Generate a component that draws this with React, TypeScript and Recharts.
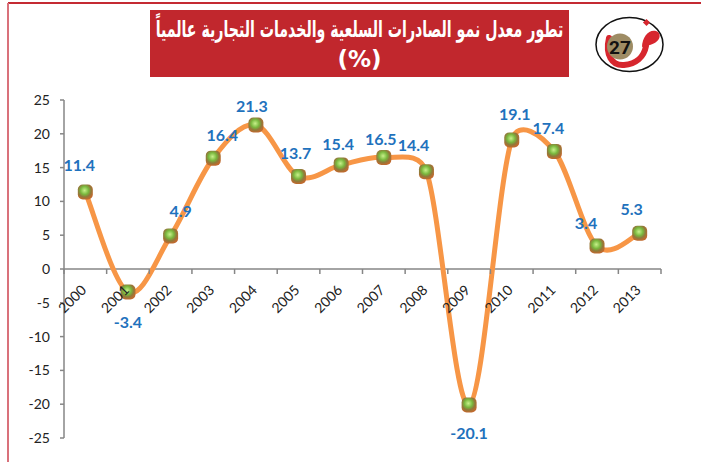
import { useLayoutEffect, useRef, useState } from 'react';
import { LineChart, Line, XAxis, YAxis, ReferenceLine, LabelList } from 'recharts';

const years = ['2000', '2001', '2002', '2003', '2004', '2005', '2006', '2007', '2008', '2009', '2010', '2011', '2012', '2013'];
const growth = [11.4, -3.4, 4.9, 16.4, 21.3, 13.7, 15.4, 16.5, 14.4, -20.1, 19.1, 17.4, 3.4, 5.3];
const yTicks = [-25, -20, -15, -10, -5, 0, 5, 10, 15, 20, 25];
// where each value label sits relative to its point (dx, dy)
const labelOffsets = [[-6, -27], [0, 30], [10, -25], [9, -24], [-4, -20], [-3, -24], [-3, -21], [-3, -19], [-13, -27], [0, 28], [3, -26], [-6, -24], [-11, -24], [-8, -25]];

const titleLine1 = 'تطور معدل نمو الصادرات السلعية والخدمات التجارية عالمياً';
const titleLine2 = '(%)';

const data = years.map((year, i) => ({ year, value: growth[i] }));

const W = 701;
const H = 462;
const PLOT_LEFT = 64;
const PLOT_TOP = 100;
const PLOT_W = 597;
const PLOT_H = 338;
const Y_MIN = -25;
const Y_MAX = 25;
const BAND = PLOT_W / years.length;
const ZERO_Y = PLOT_TOP + (PLOT_H * Y_MAX) / (Y_MAX - Y_MIN);
const FONT = 'Lato, "DejaVu Sans", sans-serif';

const dist = (a: number[], b: number[]) => Math.hypot(a[0] - b[0], a[1] - b[1]);

// Excel-like smoothed line: Catmull-Rom beziers, control arms capped at half the segment
const excelCurve = (context: any) => {
  let pts: number[][] = [];
  return {
    areaStart() {},
    areaEnd() {},
    lineStart() {
      pts = [];
    },
    point(x: number, y: number) {
      pts.push([+x, +y]);
    },
    lineEnd() {
      const n = pts.length;
      if (!n) return;
      context.moveTo(pts[0][0], pts[0][1]);
      for (let i = 0; i < n - 1; i++) {
        const p0 = pts[Math.max(i - 1, 0)];
        const p1 = pts[i];
        const p2 = pts[i + 1];
        const p3 = pts[Math.min(i + 2, n - 1)];
        const d12 = dist(p1, p2);
        const d02 = dist(p0, p2);
        const d13 = dist(p1, p3);
        const f1 = d02 / 6 < d12 / 2 ? 1 / 6 : d12 / (2 * d02);
        const f2 = d13 / 6 < d12 / 2 ? 1 / 6 : d12 / (2 * d13);
        context.bezierCurveTo(
          p1[0] + (p2[0] - p0[0]) * f1,
          p1[1] + (p2[1] - p0[1]) * f1,
          p2[0] - (p3[0] - p1[0]) * f2,
          p2[1] - (p3[1] - p1[1]) * f2,
          p2[0],
          p2[1]
        );
      }
    },
  };
};

const Marker = (props: any) => {
  const { cx, cy, index } = props;
  if (cx == null || cy == null) return null;
  const id = `mk-${index}`;
  return (
    <g key={id}>
      <defs>
        <radialGradient id={id} cx="45%" cy="40%" r="60%">
          <stop offset="0%" stopColor="#c8f08a" />
          <stop offset="45%" stopColor="#79b83e" />
          <stop offset="72%" stopColor="#8f7a3a" />
          <stop offset="100%" stopColor="#c06a2e" />
        </radialGradient>
      </defs>
      <rect x={cx - 7.5} y={cy - 7.5} width={15} height={15} rx={5} fill={`url(#${id})`} />
    </g>
  );
};

const ValueLabel = (props: any) => {
  const { x, y, value, index } = props;
  const [dx, dy] = labelOffsets[index] || [0, -20];
  return (
    <text
      x={x + dx}
      y={y + dy}
      textAnchor="middle"
      dominantBaseline="central"
      fill="#1f72bd"
      fontFamily={FONT}
      fontWeight="bold"
      fontSize={16}
    >
      {value}
    </text>
  );
};

const XTick = (props: any) => {
  const { x, payload, index } = props;
  const tx = x + 2;
  const ty = ZERO_Y + 22;
  return (
    <g>
      <line x1={x - BAND / 2} x2={x - BAND / 2} y1={ZERO_Y} y2={ZERO_Y + 5} stroke="#868686" strokeWidth={1.5} />
      {index === years.length - 1 && (
        <line x1={x + BAND / 2} x2={x + BAND / 2} y1={ZERO_Y} y2={ZERO_Y + 5} stroke="#868686" strokeWidth={1.5} />
      )}
      <text
        x={tx}
        y={ty}
        transform={`rotate(-45 ${tx} ${ty})`}
        textAnchor="end"
        fill="#222"
        fontFamily={FONT}
        fontSize={14}
      >
        {payload.value}
      </text>
    </g>
  );
};

const Logo = () => (
  <svg width={80} height={66} viewBox="590 12 80 66" style={{ position: 'absolute', left: 590, top: 12 }}>
    <ellipse cx={629.5} cy={44.5} rx={33.5} ry={27} fill="#fff" stroke="#111" strokeWidth={1.5} />
    <path
      d="M609 38 C605 55, 612 66, 624 65 C636 64, 644 57, 646 46"
      fill="none"
      stroke="#d7262e"
      strokeWidth={6}
      strokeLinecap="round"
    />
    <path d="M642 47 C642 37, 649 29, 656 31 C662 33, 661 42, 650 45 Z" fill="#d7262e" />
    <rect x={644} y={20} width={5} height={5} transform="rotate(45 646.5 22.5)" fill="#d7262e" />
    <circle cx={620} cy={46.5} r={13} fill="#9e8c64" />
    <text x={620} y={47.5} textAnchor="middle" dominantBaseline="central" fontFamily="Roboto, sans-serif" fontWeight="bold" fontSize={19} fill="#111">
      27
    </text>
  </svg>
);

// title text is squeezed to the width of the red box
const Title = () => {
  const ref = useRef<SVGTextElement>(null);
  const [sx, setSx] = useState(1);
  useLayoutEffect(() => {
    if (!ref.current) return;
    const w = ref.current.getComputedTextLength();
    if (w > 0) setSx(Math.min(1, 408 / w));
  }, []);
  return (
    <svg width={419} height={67} style={{ position: 'absolute', left: 150, top: 10 }}>
      <rect x={0} y={0} width={419} height={67} fill="#c1272d" />
      <g transform={`translate(209.5 0) scale(${sx} 1)`}>
        <text
          ref={ref}
          x={0}
          y={27}
          textAnchor="middle"
          fill="#fff"
          fontFamily='"DejaVu Sans", sans-serif'
          fontWeight="bold"
          fontSize={23}
          direction="rtl"
        >
          {titleLine1}
        </text>
      </g>
      <text
        x={209.5}
        y={57}
        textAnchor="middle"
        fill="#fff"
        fontFamily='"DejaVu Sans", sans-serif'
        fontWeight="bold"
        fontSize={23}
      >
        {titleLine2}
      </text>
    </svg>
  );
};

export default function App() {
  return (
    <div style={{ position: 'absolute', left: 0, top: 0, width: W, height: H, background: '#fff', overflow: 'hidden' }}>
      <LineChart
        width={W}
        height={H}
        data={data}
        margin={{ top: PLOT_TOP, right: W - PLOT_LEFT - PLOT_W, bottom: H - PLOT_TOP - PLOT_H - 20, left: 0 }}
      >
        <XAxis
          dataKey="year"
          height={20}
          axisLine={false}
          tickLine={false}
          interval={0}
          padding={{ left: BAND / 2, right: BAND / 2 }}
          tick={<XTick />}
        />
        <YAxis
          domain={[Y_MIN, Y_MAX]}
          ticks={yTicks}
          width={PLOT_LEFT}
          interval={0}
          tickSize={4}
          tickMargin={10}
          axisLine={{ stroke: '#868686', strokeWidth: 1.5 }}
          tickLine={{ stroke: '#868686', strokeWidth: 1.5 }}
          tick={{ fill: '#222', fontSize: 14, fontFamily: FONT }}
        />
        <ReferenceLine y={0} stroke="#868686" strokeWidth={1.5} />
        <Line
          dataKey="value"
          type={excelCurve as any}
          stroke="#f79646"
          strokeWidth={5}
          dot={<Marker />}
          activeDot={false}
          isAnimationActive={false}
        >
          <LabelList dataKey="value" content={<ValueLabel />} />
        </Line>
      </LineChart>

      <svg width={W} height={H} style={{ position: 'absolute', left: 0, top: 0, pointerEvents: 'none' }}>
        <line x1={8} x2={W} y1={3} y2={3} stroke="#c42a33" strokeWidth={2} />
        <line x1={8} x2={8} y1={3} y2={H} stroke="#d9717b" strokeWidth={2} />
      </svg>

      <Title />
      <Logo />
    </div>
  );
}
